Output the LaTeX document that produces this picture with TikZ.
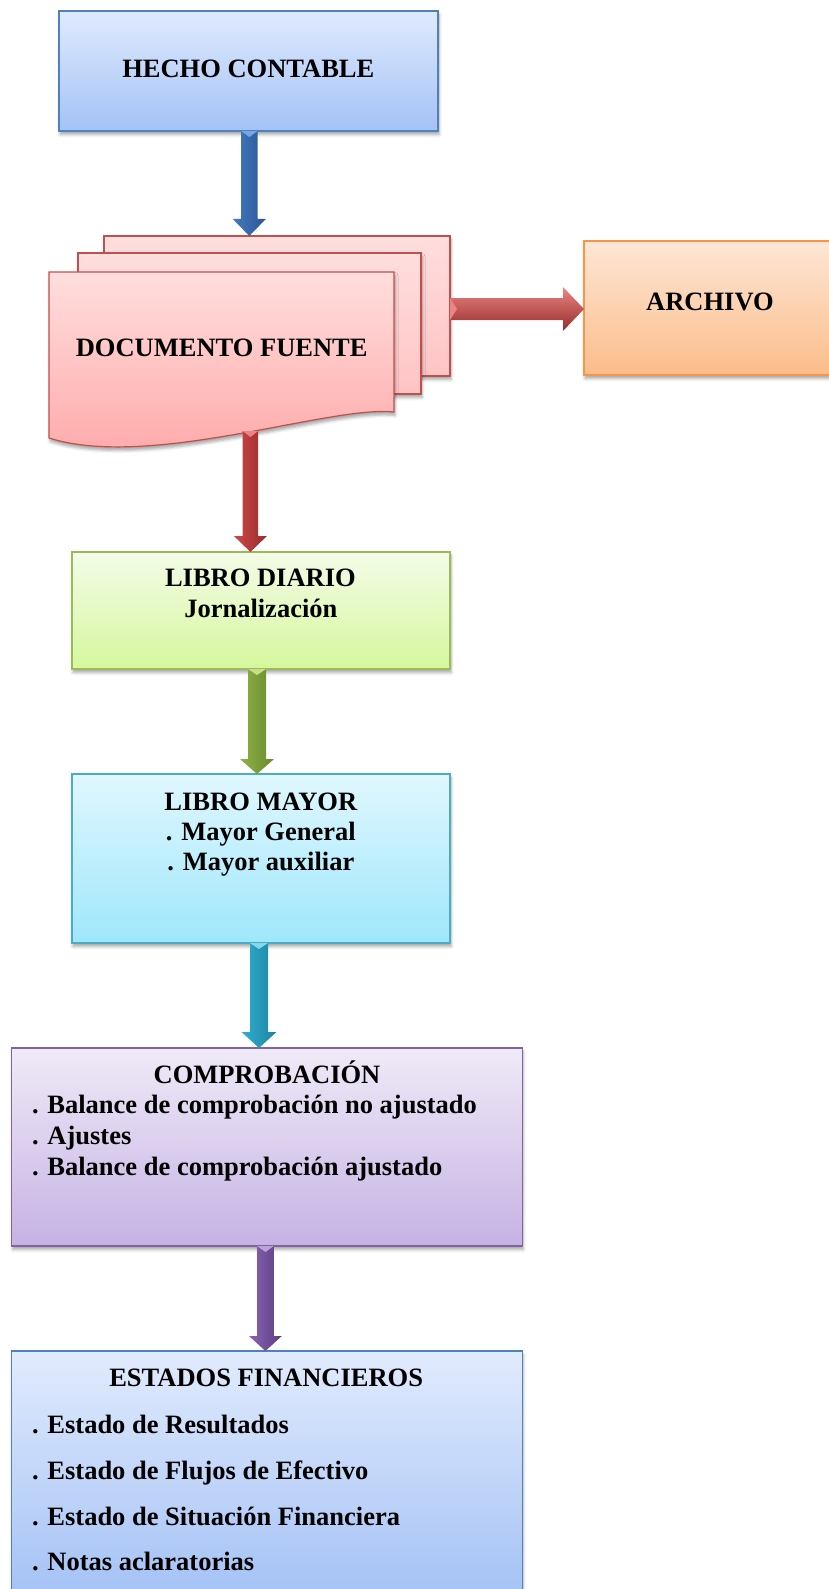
\documentclass[tikz,border=0pt]{standalone}
\usepackage{fontspec}
\setmainfont{Liberation Serif}
\usetikzlibrary{calc,shadows.blur}

% box fills (top / bottom) and borders
\definecolor{hechoTop}{HTML}{E0EAFD}\definecolor{hechoBot}{HTML}{A4C2F6}\definecolor{hechoLine}{HTML}{4F81BD}
\definecolor{docTop}{HTML}{FFDEDE}\definecolor{docBot}{HTML}{FFA6A6}\definecolor{docLine}{HTML}{C0504D}
\definecolor{docBackBot}{HTML}{FFC4C4}
\definecolor{archTop}{HTML}{FDE6D6}\definecolor{archBot}{HTML}{FBBD8A}\definecolor{archLine}{HTML}{F79646}
\definecolor{diarTop}{HTML}{F3FCE8}\definecolor{diarBot}{HTML}{D6F79C}\definecolor{diarLine}{HTML}{9BBB59}
\definecolor{mayTop}{HTML}{E0F7FE}\definecolor{mayBot}{HTML}{9FE7FB}\definecolor{mayLine}{HTML}{4BACC6}
\definecolor{compTop}{HTML}{EFEAF7}\definecolor{compBot}{HTML}{C6B2E4}\definecolor{compLine}{HTML}{8064A2}
\definecolor{estTop}{HTML}{E1EBFD}\definecolor{estBot}{HTML}{A3C1F5}

% block arrow colours: light side, middle, dark side, bevel
\definecolor{blueL}{HTML}{4479C2}\definecolor{blueM}{HTML}{4F8AD4}\definecolor{blueD}{HTML}{2A5792}\definecolor{blueH}{HTML}{76A6E2}
\definecolor{redL}{HTML}{D04848}\definecolor{redM}{HTML}{DA5656}\definecolor{redD}{HTML}{962C2C}\definecolor{redH}{HTML}{EC8484}
\definecolor{grnL}{HTML}{8DB246}\definecolor{grnM}{HTML}{A2C75C}\definecolor{grnD}{HTML}{6A8A2E}\definecolor{grnH}{HTML}{C4E08A}
\definecolor{cyaL}{HTML}{31AECF}\definecolor{cyaM}{HTML}{46C1DF}\definecolor{cyaD}{HTML}{1D83A0}\definecolor{cyaH}{HTML}{84D8EC}
\definecolor{purL}{HTML}{8A64B6}\definecolor{purM}{HTML}{9C7AC6}\definecolor{purD}{HTML}{5C3D80}\definecolor{purH}{HTML}{BCA2DC}

% vertical block arrow between two anchors:
% #1 shading, #2 x-centre, #3 from, #4 to, #5 shaft half width, #6 head half width, #7 head length, #8 bevel colour
\newcommand{\vblockarrow}[8]{%
  \path[#1] let \p1=(#3), \p2=(#4) in
    (#2pt-#5pt,\y1) -- (#2pt+#5pt,\y1) -- (#2pt+#5pt,\y2+#7pt) -- (#2pt+#6pt,\y2+#7pt)
    -- (#2pt,\y2) -- (#2pt-#6pt,\y2+#7pt) -- (#2pt-#5pt,\y2+#7pt) -- cycle;
  \fill[#8] let \p1=(#3) in (#2pt-#5pt,\y1) -- (#2pt+#5pt,\y1) -- (#2pt,\y1-6pt) -- cycle;
}

\tikzset{
  box/.style={draw, line width=1.2pt, inner sep=0pt, outer sep=0pt, anchor=north west,
    blur shadow={shadow xshift=1pt, shadow yshift=-3.5pt, shadow blur radius=3pt, shadow opacity=35}},
  sheet/.style={draw=docLine, line width=1.2pt,
    blur shadow={shadow xshift=1pt, shadow yshift=-3.5pt, shadow blur radius=3pt, shadow opacity=35}},
  txt/.style={inner sep=0pt, outer sep=0pt, font=\fontsize{26.5}{30}\selectfont\bfseries},
}

\begin{document}
\begin{tikzpicture}[x=1pt,y=-1pt]
\useasboundingbox (0,0) rectangle (829,1589);

% ---- boxes ----
\node[box, draw=hechoLine, top color=hechoTop, bottom color=hechoBot,
      minimum width=379pt, minimum height=120pt] (hecho) at (59,11) {};

% stacked source documents
\node[box, draw=docLine, top color=docTop, bottom color=docBackBot,
      minimum width=346pt, minimum height=140pt] (docback) at (104,236) {};
\node[box, draw=docLine, top color=docTop, bottom color=docBackBot,
      minimum width=343pt, minimum height=141pt] (docmid) at (78,253) {};
\path[sheet, top color=docTop, bottom color=docBot]
  (49,272) -- (394,272) -- (394,412) .. controls (330,405) and (150,470) .. (49,438) -- cycle;
\coordinate (docwave) at (250.5,431);

\node[box, draw=archLine, top color=archTop, bottom color=archBot,
      minimum width=252pt, minimum height=134pt] (archivo) at (584,241) {};

\node[box, draw=diarLine, top color=diarTop, bottom color=diarBot,
      minimum width=378pt, minimum height=117pt] (diario) at (72,552) {};

\node[box, draw=mayLine, top color=mayTop, bottom color=mayBot,
      minimum width=378pt, minimum height=169pt] (mayor) at (72,774) {};

\node[box, draw=compLine, top color=compTop, bottom color=compBot,
      minimum width=510.4pt, minimum height=198pt] (comprob) at (11.8,1048) {};

\node[box, draw=hechoLine, top color=estTop, bottom color=estBot,
      minimum width=510.4pt, minimum height=250pt] (estados) at (11.8,1351) {};

% ---- block arrows ----
\vblockarrow{left color=blueL, middle color=blueM, right color=blueD}{249.3}{hecho.south}{docback.north}{8.3}{16.5}{17}{blueH}
\vblockarrow{left color=redL, middle color=redM, right color=redD}{250.4}{docwave}{diario.north}{7.7}{16.5}{16}{redH}
\vblockarrow{left color=grnL, middle color=grnM, right color=grnD}{257}{diario.south}{mayor.north}{9}{17}{15}{grnH}
\vblockarrow{left color=cyaL, middle color=cyaM, right color=cyaD}{259}{mayor.south}{comprob.north}{9}{17.4}{16}{cyaH}
\vblockarrow{left color=purL, middle color=purM, right color=purD}{265.4}{comprob.south}{estados.north}{8.4}{16.4}{15}{purH}

% horizontal arrow to the file box
\path[top color=redH, middle color=redL, bottom color=redD]
  let \p1=(docback.east), \p2=(archivo.west) in
  (\x1,-298pt) -- (\x2-21pt,-298pt) -- (\x2-21pt,-287pt) -- (\x2,-309pt)
  -- (\x2-21pt,-331pt) -- (\x2-21pt,-320pt) -- (\x1,-320pt) -- cycle;
\fill[redH] let \p1=(docback.east) in (\x1,-298pt) -- (\x1,-320pt) -- (\x1+7pt,-309pt) -- cycle;

% ---- texts ----
\node[txt, anchor=base] (hechoT) at (248.3,78) {HECHO CONTABLE};
\node[txt, anchor=base] (docT) at (221.7,356.7) {DOCUMENTO FUENTE};
\node[txt, anchor=base] (archT) at (710,310) {ARCHIVO};

\node[txt, anchor=base] (diarT1) at (260.4,586.7) {LIBRO DIARIO};
\node[txt, anchor=base] (diarT2) at (260.8,617) {Jornalización};

\node[txt, anchor=base] (mayT1) at (260.8,810) {LIBRO MAYOR};
\node[txt, anchor=base] (mayT2) at (260.8,840) {. Mayor General};
\node[txt, anchor=base] (mayT3) at (260.8,870) {. Mayor auxiliar};

\node[txt, anchor=base] (compT0) at (267,1083) {COMPROBACIÓN};
\node[txt, anchor=base west] (compT1) at (32,1113.3) {. Balance de comprobación no ajustado};
\node[txt, anchor=base west] (compT2) at (32,1144) {. Ajustes};
\node[txt, anchor=base west] (compT3) at (32,1175) {. Balance de comprobación ajustado};

\node[txt, anchor=base] (estT0) at (266.2,1386.7) {ESTADOS FINANCIEROS};
\node[txt, anchor=base west] (estT1) at (32,1433) {. Estado de Resultados};
\node[txt, anchor=base west] (estT2) at (32,1479) {. Estado de Flujos de Efectivo};
\node[txt, anchor=base west] (estT3) at (32,1525) {. Estado de Situación Financiera};
\node[txt, anchor=base west] (estT4) at (32,1570.7) {. Notas aclaratorias};
\end{tikzpicture}
\end{document}
